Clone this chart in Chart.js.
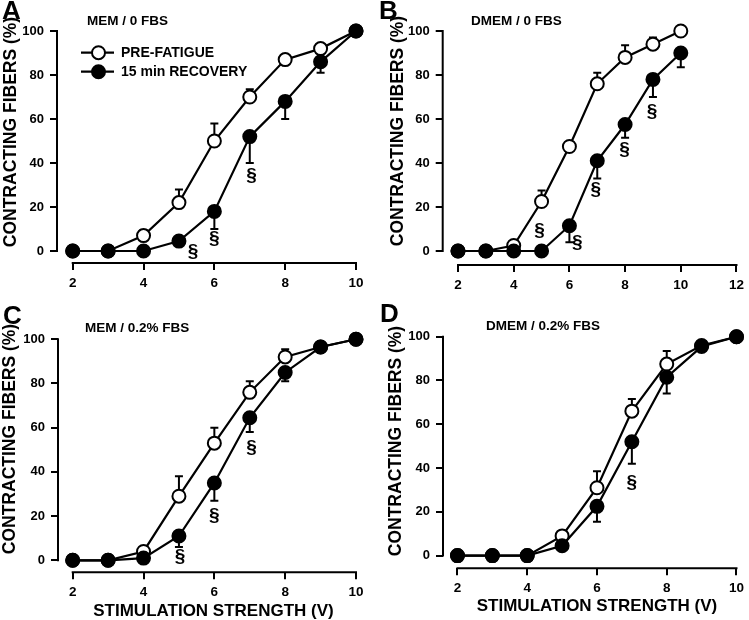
<!DOCTYPE html>
<html>
<head>
<meta charset="utf-8">
<script src="https://cdn.jsdelivr.net/npm/chart.js@4.4.1/dist/chart.umd.min.js"></script>
<style>
  body { margin: 0; background: #fff; }
  #wrap { position: relative; width: 749px; height: 620px; }
  .panel { position: absolute; }
</style>
</head>
<body>
<div id="wrap">
  <div class="panel" style="left:0;top:0"><canvas id="panelA" width="375" height="300"></canvas></div>
  <div class="panel" style="left:375px;top:0"><canvas id="panelB" width="374" height="300"></canvas></div>
  <div class="panel" style="left:0;top:300px"><canvas id="panelC" width="375" height="320"></canvas></div>
  <div class="panel" style="left:375px;top:300px"><canvas id="panelD" width="374" height="320"></canvas></div>
</div>
<script>
// stimulation strength (V)
const stimVolts = [2, 3, 4, 5, 6, 7, 8, 9, 10];
const yTicks = [0, 20, 40, 60, 80, 100];
const xTicksShort = [2, 4, 6, 8, 10];
const xTicksLong = [2, 4, 6, 8, 10, 12];

// A - MEM / 0 FBS
const preA = [0, 0, 7, 22, 50, 70, 87, 92, 100];
const preErrA = [0, 0, 2.5, 6, 8, 3.5, 2, 1.5, 0];
const recA = [0, 0, 0, 4.5, 18, 52, 68, 86, 100];
const recErrA = [0, 0, 0, 0, 8, 12, 8, 5, 0];
const markA = [[5.4, -0.5], [6, 5.5], [7.05, 34]];

// B - DMEM / 0 FBS
const preB = [0, 0, 2.5, 22.5, 47.5, 76, 88, 94, 100];
const preErrB = [0, 0, 0, 5, 0, 5, 5.5, 3, 0];
const recB = [0, 0, 0, 0, 11.5, 41, 57.5, 78, 90];
const recErrB = [0, 0, 0, 0, 7.5, 8, 6, 8, 6.5];
const markB = [[4.93, 9.4], [6.28, 3.6], [6.95, 28], [7.98, 46], [8.97, 63.5]];

// C - MEM / 0.2% FBS
const preC = [0, 0, 4, 29, 53, 76, 92, 96.5, 100];
const preErrC = [0, 0, 0, 9, 7, 5, 3.5, 0, 0];
const recC = [0, 0, 1, 11, 35, 64.5, 85, 96.5, 100];
const recErrC = [0, 0, 0, 5, 8, 6.5, 4, 0, 0];
const markC = [[5.03, 1.5], [6, 20], [7.05, 51]];

// D - DMEM / 0.2% FBS
const preD = [0, 0, 0, 9, 31, 66, 87.5, 96, 100];
const preErrD = [0, 0, 0, 0, 7.5, 5.5, 6, 0, 0];
const recD = [0, 0, 0, 4.5, 22.5, 52, 81.5, 95.5, 100];
const recErrD = [0, 0, 0, 0, 7, 10, 7.5, 1.5, 0];
const markD = [[7, 33.5]];

const FONT = '"Liberation Sans", Arial, sans-serif';
Chart.defaults.font.family = FONT;
Chart.defaults.color = '#000';

const toXY = vals => vals.map((v, i) => ({ x: stimVolts[i], y: v }));

function makeDecor(cfg) {
  return {
    id: 'decor',
    beforeDatasetsDraw(chart) {
      const { ctx, chartArea, scales: { x, y } } = chart;
      ctx.save();
      ctx.strokeStyle = '#000';
      ctx.lineWidth = 2;
      // offset axis lines
      const xt = cfg.xTicks;
      ctx.beginPath();
      ctx.moveTo(x.getPixelForValue(xt[0]) - 1, chartArea.bottom);
      ctx.lineTo(x.getPixelForValue(xt[xt.length - 1]) + 1, chartArea.bottom);
      ctx.moveTo(chartArea.left, y.getPixelForValue(0) + 1);
      ctx.lineTo(chartArea.left, y.getPixelForValue(100) - 1);
      ctx.stroke();

      // one-sided error bars
      ctx.lineWidth = 2;
      chart.data.datasets.forEach(ds => {
        ds.data.forEach((pt, i) => {
          const e = ds.errs[i];
          if (!e) return;
          const px = x.getPixelForValue(pt.x);
          const py = y.getPixelForValue(pt.y);
          const pe = y.getPixelForValue(pt.y + ds.errDir * e);
          ctx.beginPath();
          ctx.moveTo(px, py);
          ctx.lineTo(px, pe);
          ctx.moveTo(px - 4, pe);
          ctx.lineTo(px + 4, pe);
          ctx.stroke();
        });
      });
      ctx.restore();
    },
    afterDraw(chart) {
      const { ctx, scales: { x, y } } = chart;
      ctx.save();
      ctx.fillStyle = '#000';

      ctx.font = 'bold 26px ' + FONT;
      ctx.textAlign = 'left';
      ctx.textBaseline = 'alphabetic';
      ctx.fillText(cfg.letter, cfg.letterPos[0], cfg.letterPos[1]);

      ctx.font = 'bold 13.5px ' + FONT;
      ctx.fillText(cfg.subtitle, cfg.subPos[0], cfg.subPos[1]);

      // y title
      ctx.save();
      ctx.translate(cfg.yTitlePos[0], cfg.yTitlePos[1]);
      ctx.rotate(-Math.PI / 2);
      ctx.textAlign = 'center';
      ctx.textBaseline = 'middle';
      ctx.font = 'bold 17.5px ' + FONT;
      ctx.fillText('CONTRACTING FIBERS (%)', 0, 0);
      ctx.restore();

      if (cfg.xTitlePos) {
        ctx.textAlign = 'center';
        ctx.textBaseline = 'middle';
        ctx.font = 'bold 17px ' + FONT;
        ctx.fillText('STIMULATION STRENGTH (V)', cfg.xTitlePos[0], cfg.xTitlePos[1]);
      }

      // significance marks
      ctx.textAlign = 'center';
      ctx.textBaseline = 'middle';
      ctx.font = 'bold 19px ' + FONT;
      cfg.marks.forEach(([mx, my]) => {
        ctx.fillText('§', x.getPixelForValue(mx), y.getPixelForValue(my));
      });

      if (cfg.legend) {
        const items = [
          { text: 'PRE-FATIGUE', fill: '#fff', y: 52.7 },
          { text: '15 min RECOVERY', fill: '#000', y: 71.7 }
        ];
        ctx.textAlign = 'left';
        ctx.font = 'bold 14px ' + FONT;
        items.forEach(it => {
          ctx.lineWidth = 2.2;
          ctx.beginPath();
          ctx.moveTo(81, it.y);
          ctx.lineTo(114, it.y);
          ctx.stroke();
          ctx.beginPath();
          ctx.arc(98.5, it.y, 6.5, 0, Math.PI * 2);
          ctx.fillStyle = it.fill;
          ctx.fill();
          ctx.lineWidth = 2;
          ctx.stroke();
          ctx.fillStyle = '#000';
          ctx.fillText(it.text, 121, it.y + 0.5);
        });
      }
      ctx.restore();
    }
  };
}

function makePanel(id, cfg) {
  const seriesStyle = fill => ({
    borderColor: '#000',
    borderWidth: 2.2,
    pointRadius: 6.5,
    pointBorderWidth: 2,
    pointBorderColor: '#000',
    pointBackgroundColor: fill,
    tension: 0,
    clip: false
  });

  return new Chart(document.getElementById(id), {
    type: 'line',
    data: {
      datasets: [
        Object.assign({ label: 'PRE-FATIGUE', data: toXY(cfg.pre), errs: cfg.preErr, errDir: 1, order: 1 }, seriesStyle('#fff')),
        Object.assign({ label: '15 min RECOVERY', data: toXY(cfg.rec), errs: cfg.recErr, errDir: -1, order: 0 }, seriesStyle('#000'))
      ]
    },
    options: {
      responsive: false,
      animation: false,
      events: [],
      layout: { padding: cfg.pad },
      plugins: { legend: { display: false }, tooltip: { enabled: false } },
      scales: {
        x: {
          type: 'linear',
          bounds: 'data',
          min: cfg.xMin,
          max: cfg.xMax,
          afterBuildTicks: s => { s.ticks = cfg.xTicks.map(v => ({ value: v })); },
          afterFit: s => { s.height = cfg.xHeight; },
          border: { display: false },
          grid: { drawOnChartArea: false, drawTicks: true, tickLength: 7, lineWidth: 2, color: '#000' },
          ticks: { autoSkip: false, maxRotation: 0, padding: 5, font: { size: 13.5, weight: 'bold' }, callback: v => String(v) }
        },
        y: {
          type: 'linear',
          bounds: 'data',
          min: cfg.yMin,
          max: 100,
          afterBuildTicks: s => { s.ticks = yTicks.map(v => ({ value: v })); },
          afterFit: s => { s.width = cfg.yWidth; },
          border: { display: false },
          grid: { drawOnChartArea: false, drawTicks: true, tickLength: 7, lineWidth: 2, color: '#000' },
          ticks: { autoSkip: false, padding: 6, font: { size: 13, weight: 'bold' }, callback: v => String(v) }
        }
      }
    },
    plugins: [makeDecor(cfg)]
  });
}

makePanel('panelA', {
  pre: preA, preErr: preErrA, rec: recA, recErr: recErrA, marks: markA,
  xTicks: xTicksShort, xMin: 1.556, xMax: 10, yMin: -5.45,
  pad: { left: 0, top: 31, right: 19, bottom: 0 }, yWidth: 57, xHeight: 37,
  letter: 'A', letterPos: [2, 19], subtitle: 'MEM / 0 FBS', subPos: [87, 25],
  yTitlePos: [11, 132], legend: true
});

makePanel('panelB', {
  pre: preB, preErr: preErrB, rec: recB, recErr: recErrB, marks: markB,
  xTicks: xTicksLong, xMin: 1.45, xMax: 12, yMin: -6.36,
  pad: { left: 0, top: 31, right: 6.3, bottom: 0 }, yWidth: 67.7, xHeight: 35,
  letter: 'B', letterPos: [4, 19], subtitle: 'DMEM / 0 FBS', subPos: [96, 25],
  yTitlePos: [23, 131]
});

makePanel('panelC', {
  pre: preC, preErr: preErrC, rec: recC, recErr: recErrC, marks: markC,
  xTicks: xTicksShort, xMin: 1.585, xMax: 10, yMin: -5.43,
  pad: { left: 0, top: 39.3, right: 19, bottom: 0 }, yWidth: 58, xHeight: 47.7,
  letter: 'C', letterPos: [3, 24], subtitle: 'MEM / 0.2% FBS', subPos: [85, 32],
  yTitlePos: [10, 139], xTitlePos: [213.5, 311]
});

makePanel('panelD', {
  pre: preD, preErr: preErrD, rec: recD, recErr: recErrD, marks: markD,
  xTicks: xTicksShort, xMin: 1.585, xMax: 10, yMin: -5.8,
  pad: { left: 0, top: 36.7, right: 8, bottom: 0 }, yWidth: 68, xHeight: 51.7,
  letter: 'D', letterPos: [5, 22], subtitle: 'DMEM / 0.2% FBS', subPos: [111, 30],
  yTitlePos: [21.5, 141], xTitlePos: [222, 306.7]
});
</script>
</body>
</html>
